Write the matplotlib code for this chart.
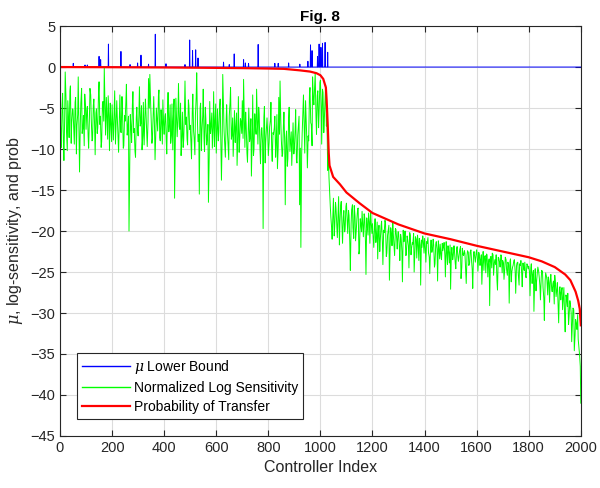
import numpy as np
import matplotlib.pyplot as plt

plt.rcParams['font.family'] = ['Liberation Sans', 'DejaVu Sans']
plt.rcParams['mathtext.fontset'] = 'dejavuserif'

n_ctrl = 2000
idx = np.arange(0, n_ctrl + 1)

# mu lower bound: zero everywhere except these controllers
mu_idx = [51, 96, 105, 150, 156, 186, 234, 269, 298, 311, 340, 366, 407, 480,
          498, 509, 521, 530, 628, 650, 669, 705, 712, 724, 761, 825, 838, 878,
          921, 952, 962, 968, 989, 995, 1002, 1008, 1018, 1028]
mu_val = [0.45, 0.25, 0.25, 1.3, 0.9, 2.8, 1.9, 0.3, 0.5, 1.45, 0.35, 4.0, 0.4, 0.3,
          3.3, 2.0, 2.1, 1.1, 0.6, 0.3, 1.6, 0.9, 0.5, 0.45, 2.75, 0.45, 0.45, 0.5,
          0.35, 0.7, 2.7, 2.0, 1.3, 2.8, 2.4, 2.9, 3.0, 1.8]

# normalized log sensitivity at controllers 0, 5, 10, ...
sens_a = [
    -5.5, -9.8, -3.2, -11.4, -0.6, -7.9, -4.1, -8.6, -2.3, -6.8, -5.2, -9.4, -3.7, -7.1, -1.2, -12.8, -4.4, -8.1, -5.9, -3.3,
    -7.6, -4.8, -9.9, -2.6, -6.3, -8.8, -3.9, -10.7, -5.1, -7.4, -1.8, -6.0, -9.1, -4.2, -0.1, -8.3, -5.6, -3.5, -10.2, -6.7,
    -4.6, -8.9, -2.9, -7.2, -6.1, -10.4, -3.4, -8.0, -5.3, -9.6, -6.6, -2.1, -7.7, -20.0, -5.8, -9.2, -3.0, -7.5, -11.0, -4.9,
    -8.4, -2.4, -6.9, -10.1, -4.3, -7.3, -5.4, -9.7, -1.4, -0.9, -6.2, -8.7, -3.6, -11.3, -5.0, -7.8, -2.8, -9.0, -6.4, -4.0,
    -8.2, -5.7, -10.6, -3.1, -7.0, -9.3, -4.5, -6.5, -16.0, -3.8, -8.5, -2.0, -7.6, -10.8, -5.5, -8.9, -1.7, -6.1, -9.5, -4.7,
    -7.1, -11.2, -3.3, -8.6, -5.9, -0.7, -9.1, -15.5, -4.4, -7.8, -2.7, -10.3, -6.3, -8.8, -16.5, -4.2, -7.3, -9.9, -3.0, -6.8,
    -10.5, -5.1, -8.0, -3.9, -13.8, -0.9, -7.7, -11.0, -4.6, -9.2, -6.0, -2.5, -8.4, -10.9, -5.3, -7.5, -12.0, -3.6, -9.0, -6.6,
    -4.1, -1.5, -9.8, -7.1, -11.6, -5.0, -8.7, -13.3, -3.4, -10.0, -6.9, -2.7, -9.4, -5.8, -11.8, -7.4, -19.7, -4.8, -9.1, -6.2,
    -10.8, -7.3, -4.3, -11.5, -8.2, -6.0, -9.6, -12.4, -3.7, -1.7, -8.9, -10.6, -5.5, -16.8, -7.8, -11.2, -4.9, -9.3, -12.0, -6.8,
    -9.9, -5.2, -11.7, -7.4, -16.8, -22.0, -8.1, -3.4, -10.5, -6.2, -12.3, -9.0, -2.5, -7.0, -1.2, -4.6, -0.7, -8.2, -2.9, -5.6,
    -1.6, -9.4, -3.1, -6.5, -2.2, -5.8, -10.5, -15.0, -18.2, -21.0, -16.0, -19.5, -17.2, -20.8, -15.8, -18.9, -16.4, -21.5, -17.5, -19.8,
    -16.6, -20.3, -18.1, -24.8, -17.4, -19.6, -16.9, -21.2, -18.6, -17.2, -22.4, -19.0, -17.6, -20.7, -18.3, -25.3, -19.4, -17.8, -21.5, -18.9,
    -19.1, -22.0, -18.5, -20.6, -23.4, -19.3, -21.1, -18.8, -24.1, -20.2, -19.0, -22.7, -20.0, -26.0, -19.6, -21.8, -20.4, -23.0, -19.8, -22.2,
    -20.1, -23.6, -20.8, -26.2, -21.3, -20.0, -22.9, -21.0, -24.5, -20.5, -22.1, -21.6, -25.0, -20.7, -23.3, -21.4, -20.9, -26.6, -22.0, -21.2,
    -20.9, -23.8, -21.5, -22.6, -25.2, -21.1, -22.3, -21.7, -24.0, -21.3, -26.1, -22.0, -21.6, -23.5, -22.4, -21.4, -25.6, -22.2, -21.8, -23.9,
    -27.1, -22.0, -23.1, -22.5, -24.6, -21.9, -23.7, -22.3, -25.8, -22.1, -23.0, -22.7, -26.4, -22.4, -24.2, -22.6, -23.4, -27.0, -22.5, -23.8,
    -22.3, -24.9, -22.8, -23.6, -26.5, -22.5, -23.2, -25.1, -22.9, -24.0, -29.1, -23.1, -22.7, -25.4, -23.5, -22.9, -27.2, -23.3, -24.4, -23.0,
    -23.6, -25.9, -23.2, -24.7, -23.8, -28.8, -23.4, -25.0, -24.2, -23.5, -27.6, -23.9, -25.3, -24.0, -23.6, -26.8, -24.5, -23.8, -25.7, -24.1,
    -24.3, -27.9, -24.0, -25.4, -29.8, -24.6, -26.2, -24.4, -25.5, -28.4, -24.8, -26.9, -30.9, -25.1, -26.0, -25.6, -28.7, -25.3, -27.4, -26.1,
    -25.4, -28.0, -26.3, -31.2, -26.8, -27.5, -29.6, -26.9, -32.3, -28.1, -27.6, -30.4, -28.9, -33.5, -29.4, -34.6, -30.8, -32.0, -33.2, -35.0,
    -41.0,
]
# ... and at controllers 3, 8, 13, ...
sens_b = [
    -7.8, -4.6, -8.9, -6.1, -3.8, -10.2, -6.4, -2.9, -9.3, -5.1, -7.7, -4.3, -10.6, -5.8, -8.2, -6.9, -2.6, -7.4, -9.6, -4.9,
    -5.3, -8.4, -6.2, -3.4, -9.0, -4.7, -7.3, -5.6, -8.1, -3.1, -7.0, -9.8, -4.5, -6.6, -5.0, -3.7, -8.8, -6.0, -4.4, -9.1,
    -7.0, -5.5, -9.4, -4.1, -8.5, -6.3, -7.9, -3.6, -9.9, -5.9, -4.2, -8.3, -6.0, -11.2, -7.5, -4.6, -8.0, -10.3, -6.2, -7.8,
    -5.9, -7.2, -4.7, -8.4, -9.5, -3.9, -8.1, -6.7, -5.0, -4.4, -9.3, -5.6, -7.4, -8.0, -6.8, -3.5, -8.6, -5.2, -9.4, -7.1,
    -6.0, -9.0, -5.2, -7.9, -4.6, -8.3, -10.1, -3.9, -9.2, -6.5, -5.9, -7.3, -4.4, -8.5, -9.8, -5.3, -7.0, -8.8, -4.0, -7.6,
    -9.3, -5.4, -7.8, -10.7, -3.7, -6.8, -8.2, -5.0, -10.2, -6.0, -8.7, -4.9, -9.5, -7.0, -11.0, -8.1, -5.6, -7.4, -9.7, -4.5,
    -7.6, -9.0, -4.8, -10.1, -8.3, -5.2, -9.6, -6.5, -8.0, -11.3, -4.3, -8.8, -6.2, -7.9, -9.2, -5.6, -8.5, -10.4, -6.3, -8.1,
    -8.7, -6.1, -5.5, -10.5, -7.3, -9.1, -6.3, -8.9, -10.8, -5.7, -8.2, -7.0, -4.9, -10.0, -7.6, -9.3, -6.1, -11.7, -7.4, -8.4,
    -9.2, -6.5, -10.1, -8.0, -7.4, -11.0, -5.8, -9.7, -8.2, -6.6, -10.9, -7.1, -9.5, -8.6, -12.1, -6.2, -10.3, -7.9, -9.0, -10.6,
    -7.6, -11.4, -8.3, -6.0, -9.9, -10.7, -5.5, -7.9, -4.1, -9.0, -8.4, -3.3, -6.8, -9.6, -4.0, -2.3, -6.1, -3.5, -7.4, -1.9,
    -4.8, -2.7, -8.0, -3.9, -7.2, -12.6, -13.5, -17.0, -19.6, -17.9, -20.6, -16.5, -19.2, -18.0, -21.7, -16.9, -19.7, -18.3, -20.1, -17.0,
    -18.7, -17.5, -21.6, -19.1, -16.8, -20.9, -18.2, -19.8, -17.3, -22.8, -18.5, -20.1, -19.5, -17.9, -21.3, -18.4, -20.5, -18.9, -17.6, -20.3,
    -20.8, -19.5, -21.4, -18.9, -20.0, -22.5, -19.4, -21.3, -19.9, -18.7, -23.1, -20.5, -19.3, -21.7, -20.3, -19.0, -22.1, -19.7, -21.0, -20.1,
    -21.9, -20.4, -22.5, -19.9, -21.2, -23.0, -20.6, -21.8, -20.2, -22.9, -21.4, -20.3, -22.2, -21.0, -20.5, -23.6, -21.7, -21.1, -20.6, -22.7,
    -22.1, -21.3, -20.8, -23.2, -21.9, -22.6, -21.0, -24.4, -21.6, -22.2, -21.2, -23.4, -22.9, -21.5, -21.9, -23.0, -21.3, -24.1, -22.6, -21.7,
    -22.6, -23.5, -21.8, -24.0, -22.2, -23.1, -22.8, -21.9, -24.4, -22.9, -22.4, -25.1, -23.0, -22.6, -23.9, -22.3, -24.7, -22.8, -23.3, -22.7,
    -23.4, -22.6, -24.2, -22.9, -23.7, -24.8, -23.0, -22.8, -25.6, -23.4, -23.2, -24.5, -22.9, -23.9, -24.1, -26.0, -23.2, -23.8, -22.9, -25.1,
    -23.9, -24.6, -23.5, -25.4, -24.1, -23.7, -26.2, -24.4, -23.6, -25.0, -24.3, -23.8, -26.6, -24.2, -25.2, -23.9, -24.8, -25.5, -24.0, -24.6,
    -25.0, -24.5, -26.4, -24.8, -25.9, -27.3, -25.2, -24.9, -26.7, -25.7, -25.0, -28.2, -26.1, -25.5, -27.8, -26.3, -25.8, -27.0, -26.4, -28.9,
    -26.6, -27.1, -29.1, -27.0, -28.4, -26.9, -28.0, -30.5, -27.8, -29.2, -31.4, -28.5, -30.0, -31.0, -29.6, -32.7, -31.3, -30.2, -34.3, -36.5,
]

# probability of transfer (sorted, so it is smooth)
prob_x = [0, 200, 400, 600, 700, 800, 860, 920, 960, 985, 1000, 1011, 1021, 1024,
          1028, 1032, 1035, 1049, 1075, 1100, 1150, 1200, 1300, 1400, 1500, 1600,
          1700, 1800, 1850, 1900, 1940, 1960, 1980, 1990, 1996, 2000]
prob_y = [0.0, -0.02, -0.05, -0.1, -0.13, -0.18, -0.22, -0.4, -0.55, -0.75, -1.0, -1.45,
          -2.5, -4.1, -7.0, -10.5, -12.0, -13.4, -14.3, -15.3, -16.6, -17.8, -19.2,
          -20.3, -21.0, -21.8, -22.5, -23.2, -23.7, -24.4, -25.3, -26.0, -27.4, -28.5,
          -29.5, -31.5]

mu = np.zeros(len(idx))
mu[mu_idx] = mu_val

sens_x = np.concatenate([np.arange(len(sens_a)) * 5, np.arange(len(sens_b)) * 5 + 3])
sens_y = np.concatenate([sens_a, sens_b])
order = np.argsort(sens_x)
sens_x, sens_y = sens_x[order], sens_y[order]

fig = plt.figure(figsize=(6.0, 4.88), dpi=100)
ax = fig.add_axes([0.1, 0.1066, 0.868, 0.84])

ax.plot(idx, mu, color='#0000ff', lw=0.7, label=r'$\mu$ Lower Bound')
ax.plot(sens_x, sens_y, color='#00ff00', lw=0.7, label='Normalized Log Sensitivity')
ax.plot(prob_x, prob_y, color='#ff0000', lw=1.6, label='Probability of Transfer')

ax.set_xlim(0, 2000)
ax.set_ylim(-45, 5)
ax.set_xticks(np.arange(0, 2001, 200))
ax.set_yticks(np.arange(-45, 6, 5))
ax.grid(True, color='#dcdcdc', lw=0.8)
ax.set_axisbelow(True)
ax.tick_params(direction='in', top=True, right=True, labelsize=10.5,
               colors='#262626', length=4)
for s in ax.spines.values():
    s.set_color('#262626')
    s.set_linewidth(0.8)

ax.set_xlabel('Controller Index', fontsize=11.5, color='#262626')
ax.set_ylabel(r'$\mu$, log-sensitivity, and prob', fontsize=11.5, color='#262626')
ax.set_title('Fig. 8', fontsize=11, fontweight='bold', pad=4)

leg = ax.legend(loc='lower left', bbox_to_anchor=(0.033, 0.041), fontsize=10.0,
                fancybox=False, framealpha=1, edgecolor='#262626',
                borderpad=0.38, labelspacing=0.35, handlelength=3.4,
                handletextpad=0.3, borderaxespad=0)
leg.get_frame().set_linewidth(0.8)
for h in leg.get_lines()[:2]:
    h.set_linewidth(1.0)

fig.savefig('out.png', dpi=100)
